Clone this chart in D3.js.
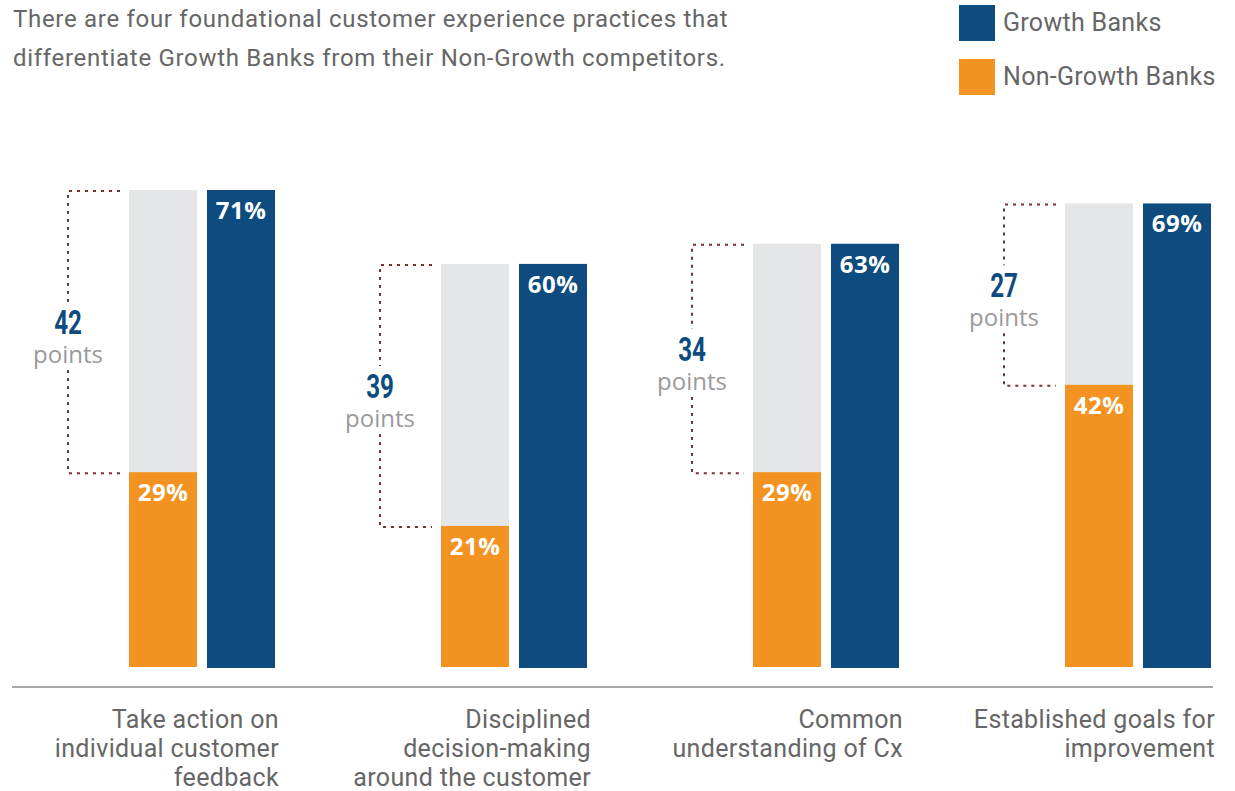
<!DOCTYPE html>
<html>
<head>
<meta charset="utf-8">
<script src="https://cdn.jsdelivr.net/npm/d3@7.8.5/dist/d3.min.js"></script>
<style>
  html, body { margin: 0; padding: 0; background: #fff; }
  svg { display: block; }
</style>
</head>
<body>
<svg id="chart" width="1235" height="791"></svg>
<script>
// data
const categories = [
    ['Take action on', 'individual customer', 'feedback'],
    ['Disciplined', 'decision-making', 'around the customer'],
    ['Common', 'understanding of Cx'],
    ['Established goals for', 'improvement']
];
const growthBanks = [71, 60, 63, 69];
const nonGrowthBanks = [29, 21, 29, 42];
const seriesNames = ['Growth Banks', 'Non-Growth Banks'];
const titleLines = [
    'There are four foundational customer experience practices that',
    'differentiate Growth Banks from their Non-Growth competitors.'
];

const colors = { growth: '#0e4c80', non: '#f39322', track: '#e5e6e8', bracket: '#7d2f2f', text: '#666', muted: '#9a9a9a' };
const baseFont = 'Roboto, "Open Sans", sans-serif';

const svg = d3.select('#chart');
const rows = categories.map((c, i) => ({ key: i, lines: c, growth: growthBanks[i], non: nonGrowthBanks[i] }));

// group step 312px, group width 146px (two 68px bars, 10px apart)
const x = d3.scaleBand().domain(rows.map(d => d.key))
    .range([129, 129 + 3 * 312 + 146])
    .paddingInner(166 / 312).paddingOuter(0);
const xs = d3.scaleBand().domain(['non', 'growth']).range([0, x.bandwidth()]).paddingInner(10 / 78);
const y = d3.scaleLinear().domain([0, 71]).range([667, 190]);

// title
svg.append('g').selectAll('text')
    .data(titleLines)
    .enter().append('text')
    .attr('x', 13)
    .attr('y', (d, i) => 27 + i * 39)
    .style('font-family', baseFont)
    .style('font-size', '24px')
    .style('letter-spacing', '0.7px')
    .style('fill', colors.text)
    .text(d => d);

// legend
const legend = svg.append('g').selectAll('g')
    .data(seriesNames)
    .enter().append('g')
    .attr('transform', (d, i) => `translate(959, ${5 + i * 54})`);
legend.append('rect')
    .attr('width', 36).attr('height', 36)
    .attr('fill', (d, i) => i === 0 ? colors.growth : colors.non);
legend.append('text')
    .attr('x', 44).attr('y', 26)
    .style('font-family', baseFont)
    .style('font-size', '25px')
    .style('letter-spacing', '0.3px')
    .style('fill', colors.text)
    .text(d => d);

// groups
const g = svg.append('g').selectAll('g.group')
    .data(rows)
    .enter().append('g')
    .attr('class', 'group')
    .attr('transform', d => `translate(${x(d.key)},0)`);

// gray track behind the non-growth bar, up to the growth value
g.append('rect')
    .attr('x', xs('non')).attr('width', xs.bandwidth())
    .attr('y', d => y(d.growth)).attr('height', d => y(0) - y(d.growth))
    .attr('fill', colors.track);

g.append('rect')
    .attr('x', xs('non')).attr('width', xs.bandwidth())
    .attr('y', d => y(d.non)).attr('height', d => y(0) - y(d.non))
    .attr('fill', colors.non);

g.append('rect')
    .attr('x', xs('growth')).attr('width', xs.bandwidth())
    .attr('y', d => y(d.growth)).attr('height', d => y(0) - y(d.growth) + 1)
    .attr('fill', colors.growth);

// value labels
const valStyle = sel => sel
    .attr('text-anchor', 'middle')
    .style('font-family', '"Open Sans", "Noto Sans", sans-serif')
    .style('font-weight', 700)
    .style('font-size', '24px')
    .style('letter-spacing', '0.5px')
    .style('fill', '#fff');

g.append('text')
    .attr('x', xs('non') + xs.bandwidth() / 2)
    .attr('y', d => y(d.non) + 29)
    .call(valStyle)
    .text(d => d.non + '%');

g.append('text')
    .attr('x', xs('growth') + xs.bandwidth() / 2)
    .attr('y', d => y(d.growth) + 29)
    .call(valStyle)
    .text(d => d.growth + '%');

// brackets showing the gap
const bx = -61;
const numY = d => (y(d.growth) + y(d.non)) / 2 + 3;
const dotted = sel => sel
    .attr('stroke', colors.bracket)
    .attr('stroke-width', 2)
    .attr('stroke-dasharray', '3,5')
    .attr('fill', 'none');

g.append('path')
    .attr('d', d => `M${-9},${y(d.growth) + 1}H${bx}V${numY(d) - 32}`)
    .call(dotted);
g.append('path')
    .attr('d', d => `M${bx},${numY(d) + 36}V${y(d.non) + 1}H${-9}`)
    .call(dotted);

g.append('text')
    .attr('transform', d => `translate(${bx},${numY(d)}) scale(0.78,1.05)`)
    .attr('text-anchor', 'middle')
    .style('font-family', baseFont)
    .style('font-weight', 700)
    .style('font-size', '31px')
    .style('fill', colors.growth)
    .text(d => d.growth - d.non);

g.append('text')
    .attr('x', bx)
    .attr('y', d => numY(d) + 29)
    .attr('text-anchor', 'middle')
    .style('font-family', '"Open Sans", sans-serif')
    .style('font-size', '24px')
    .style('fill', colors.muted)
    .text('points');

// baseline
svg.append('line')
    .attr('x1', 12).attr('x2', 1213)
    .attr('y1', 687).attr('y2', 687)
    .attr('stroke', '#a8a8a8')
    .attr('stroke-width', 2);

// category labels
g.append('text')
    .attr('text-anchor', 'end')
    .style('font-family', baseFont)
    .style('font-size', '25px')
    .style('letter-spacing', '0.35px')
    .style('fill', colors.text)
    .each(function (d) {
        d3.select(this).selectAll('tspan')
            .data(d.lines)
            .enter().append('tspan')
            .attr('x', x.bandwidth() + 4)
            .attr('y', (t, i) => 728 + i * 29)
            .text(t => t);
    });
</script>
</body>
</html>
